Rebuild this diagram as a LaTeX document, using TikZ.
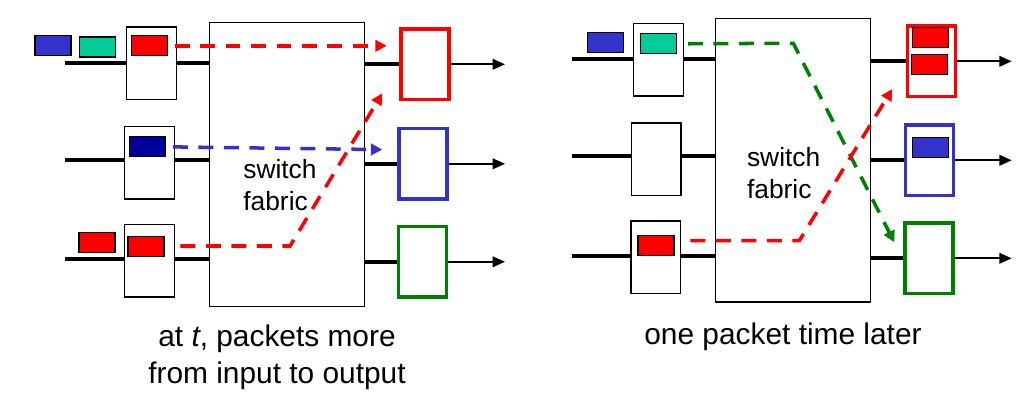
\documentclass[tikz,border=0pt]{standalone}
\usepackage{fontspec}
\setmainfont{Liberation Sans}
\usetikzlibrary{arrows.meta, calc}

\definecolor{pktblue}{HTML}{3333CC}
\definecolor{pktteal}{HTML}{00CC99}
\definecolor{pktnavy}{HTML}{000099}
\definecolor{portgreen}{HTML}{008000}

\begin{document}
\begin{tikzpicture}[
    x=0.02cm, y=-0.02cm,
    inport/.style={draw, line width=0.7pt, minimum width=0.99cm,
                   minimum height=1.45cm, inner sep=0pt},
    outport/.style={draw, line width=2pt, minimum width=0.96cm,
                    minimum height=1.41cm, inner sep=0pt},
    fabric/.style={draw, line width=0.7pt, minimum width=3.1cm,
                   minimum height=5.67cm, inner sep=0pt},
    pkt/.style={draw, line width=0.7pt, minimum width=0.72cm,
                minimum height=0.4cm, inner sep=0pt},
    label/.style={font=\fontsize{15}{18.5}\selectfont, align=left,
                  anchor=north west, inner sep=0pt},
    caption/.style={font=\fontsize{17}{20.8}\selectfont, align=center,
                    inner sep=0pt},
    wire/.style={line width=2.3pt},
    link/.style={line width=1.1pt, -{Triangle[length=7pt, width=6pt]}},
    flow/.style={line width=2pt, dash pattern=on 8.5pt off 6pt,
                 -{Triangle[length=6.5pt, width=6.5pt]}}
  ]
  \useasboundingbox (0,0) rectangle (1035,412);

  % left: at time t
  \node[fabric] (lfab) at (286.8,164.5) {};
  \node[label] (ltxt) at (243,158.7) {switch\\fabric};

  \node[inport] (lin1) at (151.5,63.3) {};
  \node[inport] (lin2) at (149.5,162.8) {};
  \node[inport] (lin3) at (149.5,260.7) {};
  \node[outport, red] (lout1) at (424.8,64.3) {};
  \node[outport, pktblue] (lout2) at (422.8,163.8) {};
  \node[outport, portgreen] (lout3) at (422.3,261.8) {};

  \coordinate (ldst) at (505,0);
  \foreach \i/\y in {1/62.7, 2/160, 3/259.3} {
    \coordinate (lsrc\i) at (65,\y);
    \draw[wire] (lsrc\i) -- (lsrc\i -| lin\i.west);
    \draw[wire] (lsrc\i -| lin\i.east) -- (lsrc\i -| lfab.west);
    \draw[wire] (lfab.east |- lout\i.west) -- (lout\i.west);
    \draw[link] (lout\i.east) -- (lout\i.east -| ldst);
  }

  \node[pkt, fill=pktblue] (lq1) at (53,45.5) {};
  \node[pkt, fill=pktteal] (lq2) at (97.5,47) {};
  \node[pkt, fill=red] (lp1) at (149.5,45.8) {};
  \node[pkt, fill=pktnavy] (lp2) at (147.5,146.8) {};
  \node[pkt, fill=red] (lq3) at (97,242.8) {};
  \node[pkt, fill=red] (lp3) at (146,246.3) {};

  \coordinate (lbend) at (290,246);
  \coordinate (ltip) at (382.3,93.3);
  \draw[flow, red, shorten <=3.7pt, shorten >=7pt]
    (lp1.east) -- (lp1.east -| lout1.west);
  \draw[flow, pktblue, shorten <=3.9pt, shorten >=8.4pt]
    (lp2.east) -- ($(lp2.east -| lout2.west)+(0,3)$);
  \draw[flow, red, shorten <=9pt]
    (lp3.east |- lbend) -- (lbend) -- (ltip);

  % right: one packet time later
  \node[fabric] (rfab) at (793.3,160.3) {};
  \node[label] (rtxt) at (746.7,146.7) {switch\\fabric};

  \node[inport] (rin1) at (658.5,59.8) {};
  \node[inport] (rin2) at (656.3,159.3) {};
  \node[inport] (rin3) at (655.8,257.3) {};
  \node[outport, red] (rout1) at (931.5,61.3) {};
  \node[outport, pktblue] (rout2) at (929.5,160.3) {};
  \node[outport, portgreen] (rout3) at (929,258.3) {};

  \coordinate (rdst) at (1011.7,0);
  \foreach \i/\y in {1/59.3, 2/156.3, 3/256} {
    \coordinate (rsrc\i) at (572,\y);
    \draw[wire] (rsrc\i) -- (rsrc\i -| rin\i.west);
    \draw[wire] (rsrc\i -| rin\i.east) -- (rsrc\i -| rfab.west);
    \draw[wire] (rfab.east |- rout\i.west) -- (rout\i.west);
    \draw[link] (rout\i.east) -- (rout\i.east -| rdst);
  }

  \node[pkt, fill=pktblue] (rq1) at (605.8,42.8) {};
  \node[pkt, fill=pktteal] (rp1) at (658.5,43.8) {};
  \node[pkt, fill=red] (rp3) at (656,245.5) {};
  \node[pkt, fill=red] (rr1) at (930.8,37.3) {};
  \node[pkt, fill=red] (rr2) at (929.8,64.3) {};
  \node[pkt, fill=pktblue] (rb2) at (930.8,147.3) {};

  \coordinate (gbend) at (793.3,43.3);
  \coordinate (gtip) at (894.3,242.3);
  \coordinate (rbend) at (799.3,240.7);
  \coordinate (rtip) at (892.3,89);
  \draw[flow, portgreen, shorten <=6.2pt]
    (rp1.east) -- (gbend) -- (gtip);
  \draw[flow, red, shorten <=9pt]
    (rp3.east |- rbend) -- (rbend) -- (rtip);

  % captions
  \node[caption, anchor=north] (lcap) at (277,324.5)
    {at \textit{t}, packets more\\from input to output};
  \node[caption, anchor=base] (rcap) at (783,344.3)
    {one packet time later};
\end{tikzpicture}
\end{document}
